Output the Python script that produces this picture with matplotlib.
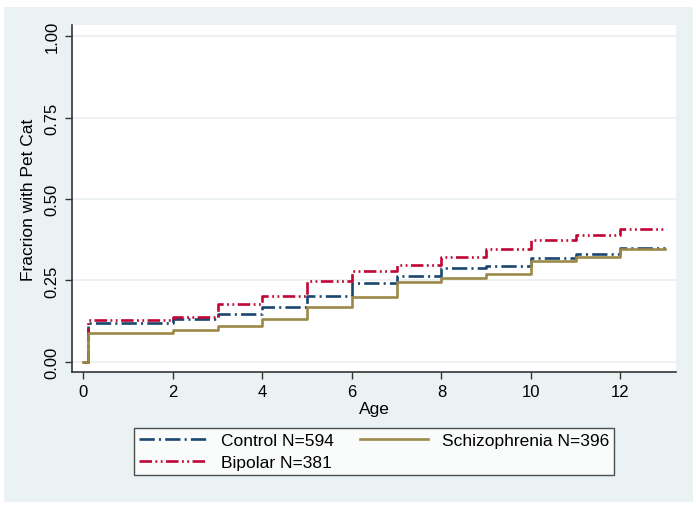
import matplotlib
matplotlib.use("Agg")
import matplotlib.pyplot as plt
from matplotlib.patches import Rectangle

plt.rcParams['font.family'] = ['Liberation Sans', 'DejaVu Sans']
plt.rcParams['lines.scale_dashes'] = False

ages = [0, 0.1, 2, 3, 4, 5, 6, 7, 8, 9, 10, 11, 12, 13]
control = [0, 0.120, 0.131, 0.147, 0.168, 0.202, 0.242, 0.265, 0.288, 0.295, 0.319, 0.332, 0.349, 0.349]
schizo = [0, 0.090, 0.098, 0.109, 0.133, 0.168, 0.199, 0.244, 0.257, 0.271, 0.309, 0.322, 0.345, 0.345]
bipolar = [0, 0.129, 0.139, 0.178, 0.203, 0.248, 0.278, 0.298, 0.322, 0.348, 0.373, 0.388, 0.408, 0.408]
labels = ["Control N=594", "Schizophrenia N=396", "Bipolar N=381"]
xticks = [0, 2, 4, 6, 8, 10, 12]
yticks = [0.0, 0.25, 0.5, 0.75, 1.0]

W, H = 696, 506
fig = plt.figure(figsize=(W / 100, H / 100), dpi=100, facecolor='white')
fig.patches.append(Rectangle((4 / W, 1 - 503 / H), (693 - 4) / W, (503 - 8) / H,
                             transform=fig.transFigure, facecolor='#eaf2f3',
                             edgecolor='none', zorder=-10))

ax = fig.add_axes([72 / W, 1 - 373 / H, (676 - 72) / W, (373 - 26) / H])
ax.set_facecolor('white')

for y in yticks:
    ax.axhline(y, color='#e9f0f2', lw=1.2, zorder=0)

navy = '#1a476f'
brown = '#9c8847'
cran = '#c10534'
lw = 1.9
l1, = ax.step(ages, control, where='post', color=navy, lw=lw,
              linestyle=(0, (11, 3, 1.5, 3)), label=labels[0])
l3, = ax.step(ages, bipolar, where='post', color=cran, lw=lw,
              linestyle=(0, (9, 2.5, 1.3, 2.5, 1.3, 2.5)), label=labels[2])
l2, = ax.step(ages, schizo, where='post', color=brown, lw=lw,
              linestyle='-', label=labels[1])

ax.set_xlim(-0.25, 13.24)
ax.set_ylim(-0.031, 1.034)
ax.set_xticks(xticks)
ax.set_yticks(yticks)
ax.set_yticklabels([f"{v:.2f}" for v in yticks], rotation=90, va='center')
ax.tick_params(axis='both', labelsize=12, length=5, width=1, color='#333333', pad=4)
for s in ['top', 'right']:
    ax.spines[s].set_visible(False)
for s in ['left', 'bottom']:
    ax.spines[s].set_color('#333333')
    ax.spines[s].set_linewidth(1.2)

ax.set_xlabel("Age", fontsize=12.5, labelpad=1)
ax.set_ylabel("Fracrion with Pet Cat", fontsize=12.5, labelpad=6)

leg = fig.legend([l1, l3, l2], [labels[0], labels[2], labels[1]], ncol=2,
                 loc='upper left',
                 bbox_to_anchor=(134 / W, 1 - 485 / H, (614 - 134) / W, (485 - 429) / H),
                 mode='expand', fontsize=12.5, frameon=True, fancybox=False,
                 edgecolor='#222222', handlelength=3.9, borderaxespad=0,
                 labelspacing=0.35, handletextpad=0.8, borderpad=0.3)
leg.get_frame().set_linewidth(1.0)

fig.savefig("out.png", dpi=100, facecolor='white')
